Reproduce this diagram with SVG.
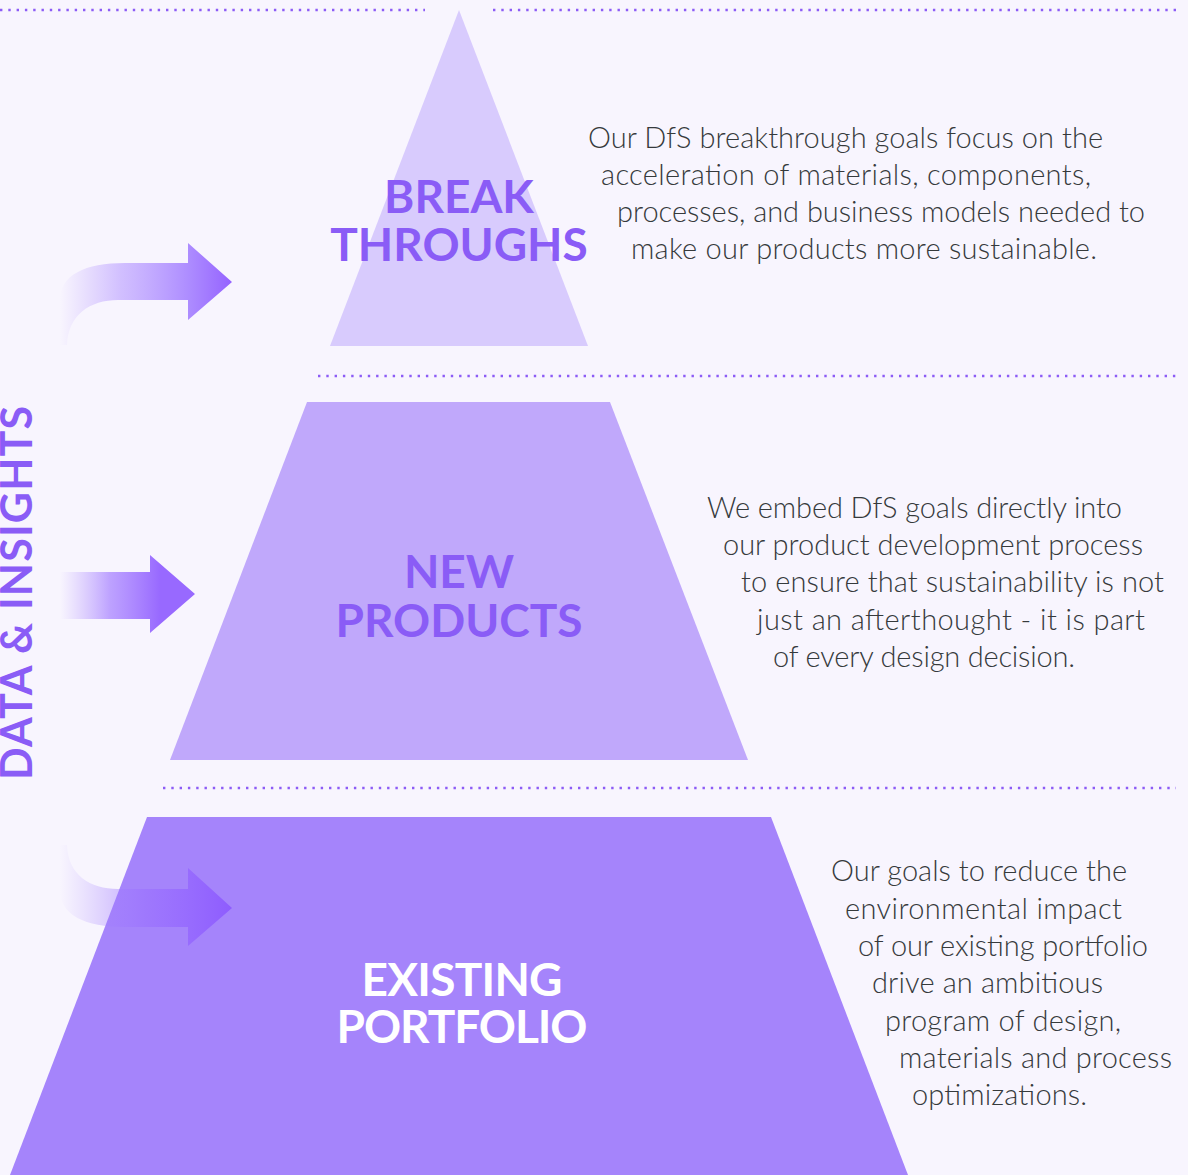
<svg xmlns="http://www.w3.org/2000/svg" width="1188" height="1175" viewBox="0 0 1188 1175">
<style>
.dots{stroke:#8c5cf6;stroke-width:2.6;stroke-dasharray:2.4 5.9;fill:none}
.label{font-family:Lato,"Liberation Sans",sans-serif;font-weight:700;font-size:46px;text-anchor:middle}
.body{font-family:Lato,"Liberation Sans",sans-serif;font-weight:300;font-size:29px;fill:#363a3c}
.side{font-family:Lato,"Liberation Sans",sans-serif;font-weight:700;font-size:43px;fill:#8a5cf6;text-anchor:middle}
</style>
<defs>
<linearGradient id="gCurve" gradientUnits="userSpaceOnUse" x1="60" y1="0" x2="232" y2="0">
<stop offset="0" stop-color="#c9b4ff" stop-opacity="0"/>
<stop offset="0.35" stop-color="#c8b2ff" stop-opacity="0.8"/>
<stop offset="0.75" stop-color="#ad8cff"/>
<stop offset="1" stop-color="#9563ff"/>
</linearGradient>
<linearGradient id="gStraight" gradientUnits="userSpaceOnUse" x1="60" y1="0" x2="160" y2="0">
<stop offset="0" stop-color="#c0a6ff" stop-opacity="0"/>
<stop offset="0.5" stop-color="#b393ff" stop-opacity="0.85"/>
<stop offset="1" stop-color="#9869ff"/>
</linearGradient>
<linearGradient id="gBottom" gradientUnits="userSpaceOnUse" x1="60" y1="0" x2="232" y2="0">
<stop offset="0" stop-color="#a98aff" stop-opacity="0"/>
<stop offset="0.5" stop-color="#9a70ff" stop-opacity="0.6"/>
<stop offset="1" stop-color="#8a55ff" stop-opacity="0.85"/>
</linearGradient>
</defs>
<rect width="1188" height="1175" fill="#f8f5fe"/>
<g id="dividers">
<line class="dots" x1="0" y1="10" x2="425" y2="10"/>
<line class="dots" x1="493" y1="10" x2="1176" y2="10"/>
<line class="dots" x1="318" y1="376" x2="1176" y2="376"/>
<line class="dots" x1="163" y1="788" x2="1176" y2="788"/>
</g>
<g id="tier-breakthroughs">
<polygon points="459,10 588,346 330,346" fill="#d8cbfd"/>
<text class="label" fill="#8a5cf6" x="459" y="213">BREAK</text>
<text class="label" fill="#8a5cf6" x="459" y="261">THROUGHS</text>
<text class="body"><tspan x="588" y="148" textLength="515">Our DfS breakthrough goals focus on the</tspan><tspan x="601" y="185" textLength="490">acceleration of materials, components,</tspan><tspan x="617" y="222" textLength="528">processes, and business models needed to</tspan><tspan x="631" y="259" textLength="466">make our products more sustainable.</tspan></text>
</g>
<g id="tier-new-products">
<polygon points="307,402 610,402 748,760 170,760" fill="#c0a8fb"/>
<text class="label" fill="#8a5cf6" x="459" y="588">NEW</text>
<text class="label" fill="#8a5cf6" x="459" y="637">PRODUCTS</text>
<text class="body"><tspan x="707" y="518" textLength="415">We embed DfS goals directly into</tspan><tspan x="723" y="555" textLength="420">our product development process</tspan><tspan x="741" y="592" textLength="423">to ensure that sustainability is not</tspan><tspan x="757" y="630" textLength="388">just an afterthought - it is part</tspan><tspan x="773" y="667" textLength="302">of every design decision.</tspan></text>
</g>
<g id="tier-existing-portfolio">
<polygon points="147,817 771,817 908,1175 10,1175" fill="#a584fb"/>
<text class="label" fill="#ffffff" x="462" y="996" textLength="201">EXISTING</text>
<text class="label" fill="#ffffff" x="462" y="1043" textLength="251">PORTFOLIO</text>
<text class="body"><tspan x="831" y="881" textLength="296">Our goals to reduce the</tspan><tspan x="845" y="919" textLength="277">environmental impact</tspan><tspan x="858" y="956" textLength="290">of our existing portfolio</tspan><tspan x="872" y="993" textLength="231">drive an ambitious</tspan><tspan x="885" y="1031" textLength="236">program of design,</tspan><tspan x="899" y="1068" textLength="273">materials and process</tspan><tspan x="912" y="1105" textLength="175">optimizations.</tspan></text>
</g>
<g id="data-insights">
<text class="side" transform="translate(32,593) rotate(-90)" textLength="374">DATA &amp; INSIGHTS</text>
</g>
<g id="connectors">
<path d="M60 345 L60 300 C60 275 85 263 125 263 L188 263 L188 243 L232 282 L188 320 L188 300 L118 300 C90 300 68 315 67 345 Z" fill="url(#gCurve)"/>
<path d="M60 572 L150 572 L150 555 L195 594 L150 633 L150 619 L60 619 Z" fill="url(#gStraight)"/>
<path d="M60 845 L60 890 C60 915 85 927 125 927 L188 927 L188 946 L232 908 L188 868 L188 889 L118 889 C90 889 68 875 67 845 Z" fill="url(#gBottom)"/>
</g>
</svg>
